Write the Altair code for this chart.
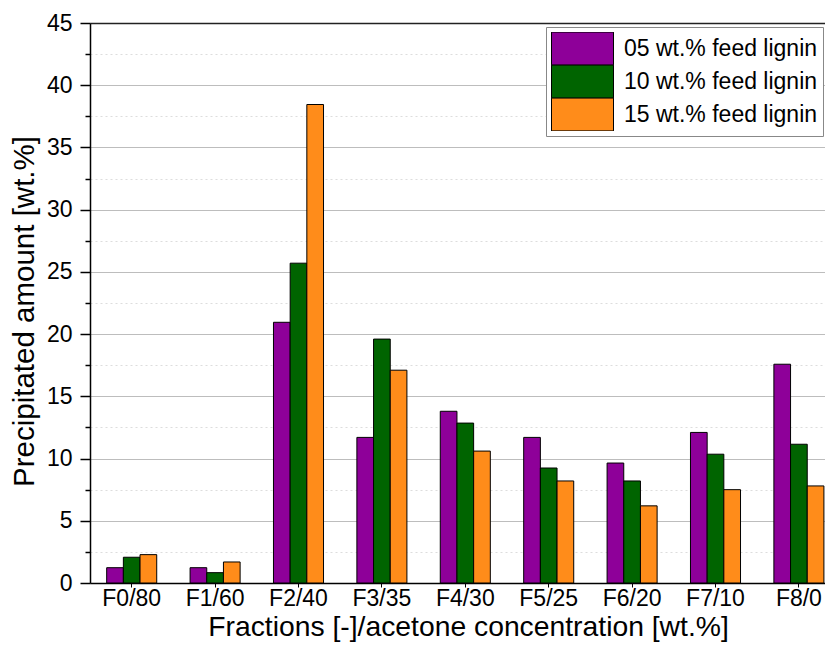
import altair as alt
import pandas as pd

fractions = ["F0/80", "F1/60", "F2/40", "F3/35", "F4/30", "F5/25", "F6/20", "F7/10", "F8/0"]
series = ["05 wt.% feed lignin", "10 wt.% feed lignin", "15 wt.% feed lignin"]
lignin_05 = [1.23, 1.23, 20.95, 11.7, 13.8, 11.7, 9.64, 12.1, 17.58]
lignin_10 = [2.07, 0.83, 25.7, 19.6, 12.85, 9.24, 8.2, 10.35, 11.15]
lignin_15 = [2.28, 1.69, 38.45, 17.1, 10.6, 8.2, 6.2, 7.5, 7.8]
colors = ["#8E0099", "#006400", "#FF8C1A"]
y_ticks = [0, 2.5, 5, 7.5, 10, 12.5, 15, 17.5, 20, 22.5, 25, 27.5, 30, 32.5,
           35, 37.5, 40, 42.5, 45]

rows = []
for vals, s in zip([lignin_05, lignin_10, lignin_15], series):
    for f, v in zip(fractions, vals):
        rows.append({"fraction": f, "series": s, "value": v})
df = pd.DataFrame(rows)

font = "Liberation Sans"
major = "datum.value % 5 === 0"
nbsp = "\u00a0" * 12

x_scale = alt.Scale(domain=fractions, range=[0, 750.6], paddingInner=0.4, paddingOuter=0.2)

bars = alt.Chart(df).mark_bar(stroke="black", strokeWidth=1).encode(
    x=alt.X(
        "fraction:N",
        scale=x_scale,
        axis=alt.Axis(
            title="Fractions [-]/acetone concentration [wt.%]",
            labelAngle=0,
            tickSize=4,
            tickColor="black",
            tickWidth=1,
            domainColor="black",
            domainWidth=1.5,
            labelFont=font,
            labelFontSize=23,
            labelColor="black",
            labelBaseline="alphabetic",
            labelPadding=18,
            titleFont=font,
            titleFontSize=28.3,
            titleFontWeight="normal",
            titleColor="black",
            titleBaseline="alphabetic",
            titleY=52,
            titleX=378,
            grid=False,
        ),
    ),
    xOffset=alt.XOffset("series:N", scale=alt.Scale(domain=series, paddingInner=0, paddingOuter=0)),
    y=alt.Y(
        "value:Q",
        scale=alt.Scale(domain=[0, 45], nice=False),
        axis=alt.Axis(
            values=y_ticks,
            title="Precipitated amount [wt.%]",
            labelExpr="datum.value % 5 === 0 ? datum.label : ''",
            tickSize={"condition": {"test": major, "value": 10}, "value": 5},
            gridDash={"condition": {"test": major, "value": []}, "value": [2, 3]},
            gridColor={"condition": {"test": major, "value": "#bdbdbd"}, "value": "#dddddd"},
            grid=True,
            gridWidth=1,
            tickColor="black",
            tickWidth=1.5,
            domainColor="black",
            domainWidth=1.5,
            labelFont=font,
            labelFontSize=23,
            labelColor="black",
            labelPadding=8,
            titleFont=font,
            titleFontSize=29.5,
            titleFontWeight="normal",
            titleColor="black",
            titleX=-51,
            titleY=288,
        ),
    ),
    color=alt.Color(
        "series:N",
        scale=alt.Scale(domain=series, range=colors),
        legend=alt.Legend(
            title=None,
            orient="none",
            legendX=456,
            legendY=4,
            direction="vertical",
            symbolType="M-1,-0.53H1V0.53H-1Z",
            symbolSize=3844,
            symbolStrokeColor="black",
            symbolStrokeWidth=1,
            symbolOpacity=1,
            labelFont=font,
            labelFontSize=23,
            labelColor="black",
            labelOffset=10,
            labelLimit=600,
            labelExpr="datum.label + '" + nbsp + "'",
            clipHeight=33,
            rowPadding=0,
            padding=5,
            strokeColor="#888888",
            fillColor="white",
        ),
    ),
)

top = alt.Chart(df).mark_bar(opacity=0).encode(
    x=alt.X(
        "fraction:N",
        scale=x_scale,
        axis=alt.Axis(orient="top", labels=False, ticks=False, title=None,
                      domainColor="#222222", domainWidth=1.5, grid=False),
    )
)

chart = alt.layer(bars, top).resolve_axis(x="independent").properties(
    width=735,
    height=560,
    autosize=alt.AutoSizeParams(type="none"),
    padding={"left": 82, "top": 15, "right": 0, "bottom": 59},
).configure_view(stroke=None)

chart.save("out.html", embed_options={"renderer": "svg", "actions": False})
